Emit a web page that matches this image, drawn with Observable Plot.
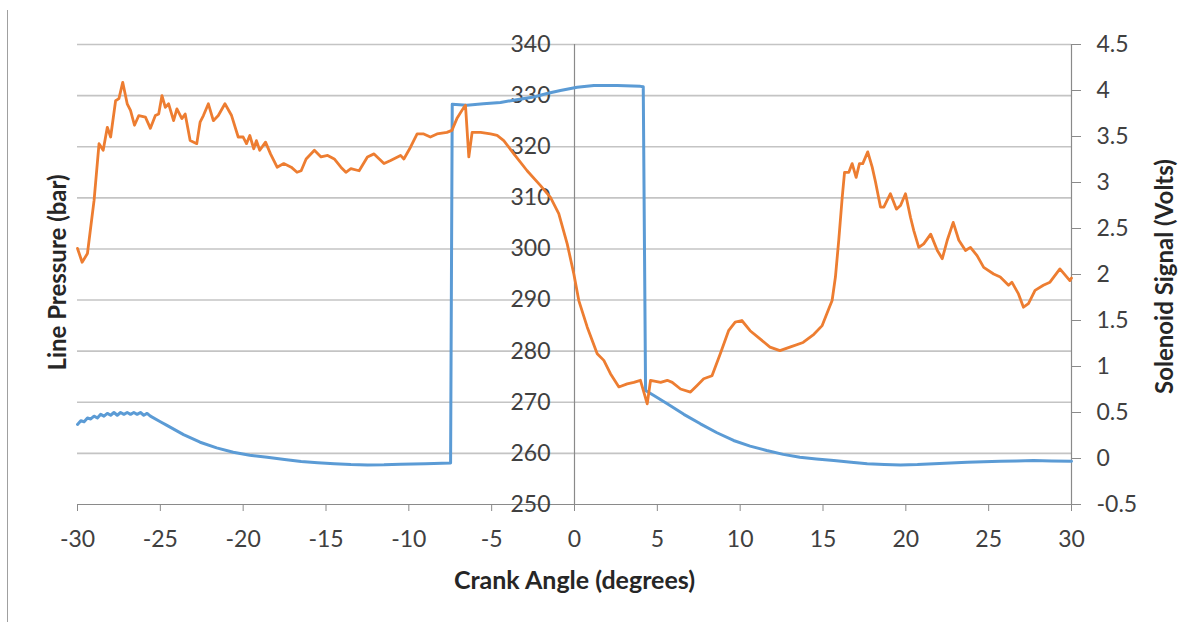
<!DOCTYPE html>
<html>
<head>
<meta charset="utf-8">
<script src="https://cdn.jsdelivr.net/npm/d3@7"></script>
<script src="https://cdn.jsdelivr.net/npm/@observablehq/plot@0.6"></script>
<style>
  html, body { margin: 0; padding: 0; background: #fff; }
  #wrap { position: relative; width: 1201px; height: 622px; overflow: hidden; }
  #border { position: absolute; left: 7px; top: 10px; height: 612px; border-left: 1px solid #a0a0a0; }
</style>
</head>
<body>
<div id="wrap"><div id="border"></div></div>
<script>
// ---- data ----
const pressureAngle = [
  -30.0,-29.72,-29.4,-29.0,-28.7,-28.45,-28.2,-28.0,-27.7,-27.5,-27.27,-27.0,-26.8,-26.56,-26.3,-25.9,-25.6,-25.3,-25.1,-24.9,
  -24.7,-24.5,-24.2,-24.0,-23.7,-23.5,-23.2,-22.8,-22.6,-22.4,-22.1,-21.8,-21.5,-21.1,-20.7,-20.3,-20.0,-19.8,-19.6,-19.36,
  -19.2,-19.0,-18.65,-18.35,-17.95,-17.55,-17.1,-16.75,-16.5,-16.2,-15.7,-15.3,-14.9,-14.5,-14.1,-13.8,-13.5,-13.0,-12.5,-12.1,
  -11.5,-11.1,-10.5,-10.3,-9.9,-9.5,-9.1,-8.7,-8.3,-7.7,-7.4,-7.1,-6.68,-6.58,-6.38,-6.18,-5.67,-5.07,-4.67,-4.27,
  -3.66,-2.86,-2.05,-1.45,-0.95,-0.44,-0.04,0.26,0.77,1.37,1.77,2.17,2.68,3.18,3.58,3.98,4.39,4.59,5.2,5.6,
  5.9,6.4,7.0,7.4,7.8,8.3,8.8,9.3,9.7,10.1,10.6,11.2,11.8,12.4,13.0,13.8,14.45,14.95,15.35,15.55,
  15.75,15.95,16.16,16.3,16.56,16.76,17.0,17.2,17.4,17.7,17.97,18.17,18.47,18.67,19.07,19.43,19.68,19.98,20.28,20.48,
  20.78,21.08,21.5,21.9,22.2,22.5,22.86,23.2,23.6,23.9,24.3,24.7,25.3,25.7,26.2,26.4,26.8,27.1,27.4,27.8,
  28.3,28.7,29.3,29.9,30.0
];
const pressureBar = [
  300.1,297.4,299.1,309.5,320.6,319.3,323.8,321.9,329.0,329.4,332.6,328.4,327.1,324.2,326.1,325.8,323.6,326.1,326.4,330.0,
  327.7,328.4,325.1,327.4,325.5,326.4,321.2,320.6,324.8,326.1,328.4,325.1,326.1,328.4,326.1,321.9,321.9,320.6,322.2,319.6,
  321.2,319.3,320.9,318.6,316.0,316.7,316.0,315.0,315.3,317.6,319.3,318.0,318.3,317.6,316.0,315.0,315.7,315.3,318.0,318.6,
  316.7,317.3,318.3,317.6,319.9,322.5,322.5,321.9,322.5,322.8,323.2,325.5,327.7,328.1,318.0,322.8,322.8,322.5,322.2,321.2,
  318.6,315.3,312.4,310.1,306.9,301.0,295.1,289.9,284.7,279.5,278.2,275.6,273.0,273.6,273.9,274.3,269.7,274.3,273.9,274.3,
  273.9,272.6,272.0,273.3,274.6,275.2,279.5,284.0,285.7,286.0,284.0,282.4,280.8,280.1,280.8,281.7,283.3,285.0,288.3,289.9,
  294.5,301.7,310.1,315.0,315.0,316.7,314.0,316.7,316.7,319.0,316.0,313.1,308.2,308.2,310.8,307.8,308.5,310.8,306.2,303.6,
  300.3,301.0,302.9,299.7,298.1,301.7,305.2,301.7,299.7,300.3,298.7,296.4,295.1,294.5,292.9,293.5,291.2,288.6,289.3,291.9,
  292.9,293.5,296.1,293.8,294.3
];
const solenoidAngle = [
  -30.0,-29.8,-29.6,-29.4,-29.2,-29.0,-28.8,-28.6,-28.4,-28.2,-28.0,-27.8,-27.6,-27.4,-27.2,-27.0,-26.8,-26.6,-26.4,-26.2,
  -26.0,-25.8,-25.6,-25.0,-24.6,-23.6,-22.6,-21.6,-20.6,-19.6,-18.55,-17.5,-16.5,-15.5,-14.5,-13.5,-12.5,-11.5,-10.5,-9.0,
  -7.48,-7.38,-6.5,-5.5,-4.47,-3.5,-2.46,-1.6,-0.85,0.16,1.17,2.58,3.98,4.15,4.29,4.79,5.6,6.6,7.6,8.6,
  9.6,10.6,11.6,12.6,13.6,14.6,15.65,16.7,17.67,18.7,19.68,20.7,21.7,22.7,23.7,24.7,25.7,26.7,27.7,28.8,30.0
];
const solenoidVolts = [
  0.37,0.41,0.40,0.44,0.43,0.46,0.44,0.48,0.46,0.49,0.47,0.50,0.47,0.50,0.48,0.50,0.48,0.50,0.48,0.50,
  0.47,0.49,0.46,0.40,0.36,0.26,0.177,0.115,0.068,0.035,0.014,-0.012,-0.033,-0.047,-0.058,-0.066,-0.07,-0.068,-0.062,-0.058,
  -0.05,3.85,3.84,3.855,3.87,3.9,3.93,3.97,4.0,4.036,4.055,4.055,4.045,4.04,0.74,0.685,0.594,0.48,0.377,0.28,
  0.196,0.135,0.087,0.045,0.014,-0.005,-0.022,-0.042,-0.058,-0.066,-0.07,-0.066,-0.058,-0.048,-0.04,-0.034,-0.03,-0.026,-0.022,-0.026,-0.03
];
const angleTicks = [-30,-25,-20,-15,-10,-5,0,5,10,15,20,25,30];
const pressureTicks = [250,260,270,280,290,300,310,320,330,340];
const voltTicks = [-0.5,0,0.5,1,1.5,2,2.5,3,3.5,4,4.5];
const xTitle = "Crank Angle (degrees)";
const yLeftTitle = "Line Pressure (bar)";
const yRightTitle = "Solenoid Signal (Volts)";

// ---- secondary axis mapping (volts -> bar) ----
const vMin = -0.5, vMax = 4.5, pMin = 250, pMax = 340;
const toP = v => pMin + (v - vMin) * (pMax - pMin) / (vMax - vMin);
const toV = p => vMin + (p - pMin) * (vMax - vMin) / (pMax - pMin);

const pressure = pressureAngle.map((a, i) => ({a, p: pressureBar[i]}));
const solenoid = solenoidAngle.map((a, i) => ({a, p: toP(solenoidVolts[i])}));

const FONT = "Lato, 'Open Sans', sans-serif";
const TXT = "#404040";
const TTL = "#262626";
const AX = "#8a8a8a";

const chart = Plot.plot({
  width: 1201,
  height: 622,
  marginLeft: 77,
  marginRight: 130,
  marginTop: 44,
  marginBottom: 118,
  x: {domain: [-30, 30]},
  y: {domain: [250, 340]},
  style: {fontFamily: FONT, fontSize: "23px", color: TXT, background: "transparent", overflow: "visible"},
  marks: [
    Plot.ruleY(pressureTicks.filter(d => d !== 250), {stroke: "#c4c4c4", strokeWidth: 1.6}),
    Plot.ruleY([250], {stroke: AX, strokeWidth: 1.2}),
    Plot.ruleX([0], {stroke: AX, strokeWidth: 1.2}),
    Plot.ruleX([30], {stroke: AX, strokeWidth: 1.2}),
    Plot.axisX({ticks: angleTicks, tickSize: 7, tickPadding: 19, tickFormat: d => String(d),
      stroke: AX, fill: TXT, fontSize: 23, label: null}),
    Plot.axisY({anchor: "right", ticks: voltTicks.map(toP), tickSize: 9, tickPadding: 16,
      tickFormat: p => String(+toV(p).toFixed(1)), stroke: AX, fill: TXT, fontSize: 23, label: null}),
    Plot.text(pressureTicks, {x: () => 0, y: d => d, text: d => String(d), textAnchor: "end", dx: -24,
      fill: TXT, fontSize: 23}),
    Plot.line(solenoid, {x: "a", y: "p", stroke: "#5b9bd5", strokeWidth: 3, curve: "linear"}),
    Plot.line(pressure, {x: "a", y: "p", stroke: "#ed7d31", strokeWidth: 2.8, curve: "linear"}),
    Plot.text([xTitle], {frameAnchor: "bottom", dy: 76, text: d => d, fontWeight: "bold", fontSize: 25,
      fill: TTL, textAnchor: "middle", lineAnchor: "middle"}),
    Plot.text([yLeftTitle], {frameAnchor: "left", dx: -19, dy: -2, rotate: -90, text: d => d, fontWeight: "bold",
      fontSize: 24, fill: TTL, textAnchor: "middle", lineAnchor: "middle"}),
    Plot.text([yRightTitle], {frameAnchor: "right", dx: 94, dy: 2, rotate: -90, text: d => d, fontWeight: "bold",
      fontSize: 24, fill: TTL, textAnchor: "middle", lineAnchor: "middle"})
  ]
});
document.getElementById("wrap").appendChild(chart);
chart.style.position = "absolute";
chart.style.left = "0px";
chart.style.top = "0px";
</script>
</body>
</html>
